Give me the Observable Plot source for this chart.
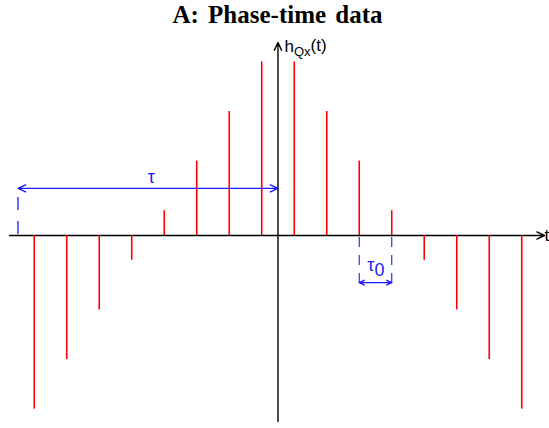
<!DOCTYPE html>
<html>
<head>
<meta charset="utf-8">
<script src="https://cdn.jsdelivr.net/npm/d3@7"></script>
<script src="https://cdn.jsdelivr.net/npm/@observablehq/plot@0.6"></script>
<style>
  body { margin: 0; background: #fff; }
  #title { height: 30px; line-height: 30px; font-family: "Liberation Serif", "Times New Roman", serif; font-weight: bold; font-size: 25px; word-spacing: 3px; text-align: center; padding-left: 6px; color: #000; white-space: nowrap; }
  svg { display: block; }
</style>
</head>
<body>
<div id="title">A: Phase-time data</div>
<div id="chart"></div>
<script>
// Sample times (in units of tau0) and phase-time filter values
const times = [-7.5, -6.5, -5.5, -4.5, -3.5, -2.5, -1.5, -0.5, 0.5, 1.5, 2.5, 3.5, 4.5, 5.5, 6.5, 7.5];
const values = [-3.5, -2.5, -1.5, -0.5, 0.5, 1.5, 2.5, 3.5, 3.5, 2.5, 1.5, 0.5, -0.5, -1.5, -2.5, -3.5];
const tauStart = -8.0;   // start of tau span
const tau0Start = 2.5, tau0End = 3.5;

const data = times.map((t, i) => ({t, v: values[i]}));

const red = "#ff0000", blue = "#1a1aff";
const fontSans = "Liberation Sans, Arial, sans-serif";

const plot = Plot.plot({
  width: 549,
  height: 398,
  marginLeft: 0, marginRight: 0, marginTop: 0, marginBottom: 0,
  x: {domain: [-8.538, 8.354], axis: null},
  y: {domain: [-3.891, 4.133], axis: null},
  marks: [
    // axes
    Plot.arrow([{x1: -8.26, x2: 8.2, y1: 0, y2: 0}], {x1: "x1", x2: "x2", y1: "y1", y2: "y2", stroke: "black", strokeWidth: 1.4, headLength: 9, headAngle: 50}),
    Plot.arrow([{x1: 0, x2: 0, y1: -3.75, y2: 3.89}], {x1: "x1", x2: "x2", y1: "y1", y2: "y2", stroke: "black", strokeWidth: 1.4, headLength: 9, headAngle: 50}),
    // sticks
    Plot.ruleX(data, {x: "t", y1: 0, y2: "v", stroke: red, strokeWidth: 1.6}),
    // tau annotation
    Plot.arrow([{x1: tauStart / 2, x2: tauStart}, {x1: tauStart / 2, x2: 0}], {x1: "x1", x2: "x2", y1: 0.95, y2: 0.95, stroke: blue, strokeWidth: 1.4, headLength: 9, headAngle: 50}),
    Plot.ruleX([tauStart], {y1: 0.02, y2: 0.87, stroke: blue, strokeWidth: 1.3, strokeDasharray: "13,11"}),
    Plot.text(["τ"], {x: -3.9, y: 1.17, text: d => d, fill: blue, fontSize: 18, fontFamily: fontSans}),
    // tau0 annotation
    Plot.ruleX([tau0Start, tau0End], {y1: -0.04, y2: -1.0, stroke: blue, strokeWidth: 1.1, strokeDasharray: "10,8"}),
    Plot.arrow([{x1: 3, x2: tau0Start}, {x1: 3, x2: tau0End}], {x1: "x1", x2: "x2", y1: -0.95, y2: -0.95, stroke: blue, strokeWidth: 1.4, headLength: 8, headAngle: 50}),
    Plot.text(["τ0"], {x: 2.75, y: -0.6, text: d => d, fill: blue, fontSize: 18, fontFamily: fontSans, textAnchor: "start"}),
    // axis labels
    Plot.text(["t"], {x: 8.2, y: 0, text: d => d, fill: "black", fontSize: 17, fontFamily: fontSans, textAnchor: "start"}),
    Plot.text(["hQx(t)"], {x: 0.2, y: 3.8, text: d => d, fill: "black", fontSize: 17, fontFamily: fontSans, textAnchor: "start"})
  ]
});
document.getElementById("chart").appendChild(plot);

// subscripts
d3.select(plot).selectAll("text").each(function() {
  const el = d3.select(this);
  const s = this.textContent;
  if (s === "hQx(t)") {
    el.text("h");
    el.append("tspan").attr("dy", "0.3em").attr("font-size", 13).text("Qx");
    el.append("tspan").attr("dy", "-0.3em").text("(t)");
  } else if (s === "τ0") {
    el.text("τ");
    el.append("tspan").attr("dy", "0.3em").text("0");
  }
});
</script>
</body>
</html>
